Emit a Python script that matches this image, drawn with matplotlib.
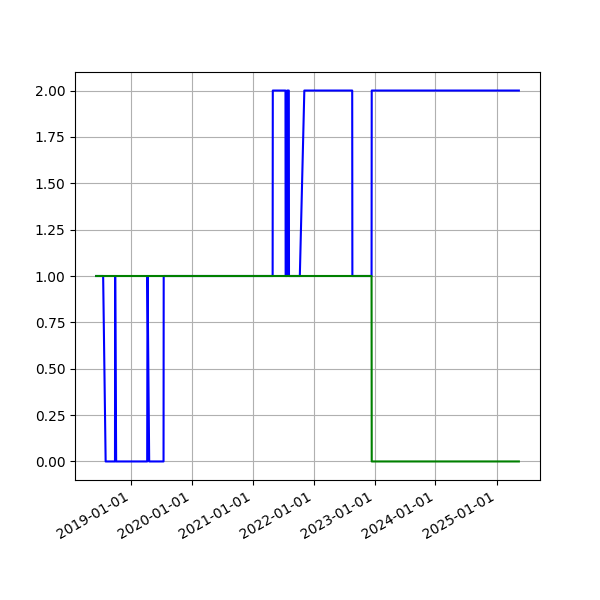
import numpy as np
import pandas as pd
import matplotlib
matplotlib.use("Agg")
from matplotlib import pyplot as plt
import matplotlib.dates as mdates

blue_dates = ["2018-06-07", "2018-07-19", "2018-08-03", "2018-09-28", "2018-09-29",
              "2018-10-05", "2019-04-09", "2019-04-11", "2019-04-21", "2019-07-16",
              "2019-07-17", "2021-04-30", "2021-05-01", "2021-07-16", "2021-07-17",
              "2021-07-25", "2021-07-26", "2021-08-05", "2021-08-06", "2021-10-10",
              "2021-11-06", "2022-08-20", "2022-08-21", "2022-12-14", "2022-12-15",
              "2025-05-15"]
blue_values = [1, 1, 0, 0, 1,
               0, 0, 1, 0, 0,
               1, 1, 2, 2, 1,
               1, 2, 2, 1, 1,
               2, 2, 1, 1, 2,
               2]

green_dates = ["2018-06-07", "2022-12-14", "2022-12-15", "2025-05-15"]
green_values = [1, 1, 0, 0]

fig, ax = plt.subplots(figsize=(6, 6), dpi=100)
ax.plot(pd.to_datetime(blue_dates), blue_values, color="b")
ax.plot(pd.to_datetime(green_dates), green_values, color="g")

ax.xaxis.set_major_locator(mdates.YearLocator())
ax.xaxis.set_major_formatter(mdates.DateFormatter("%Y-%m-%d"))
ax.grid(True)
fig.autofmt_xdate()

fig.savefig("out.png", dpi=100)
